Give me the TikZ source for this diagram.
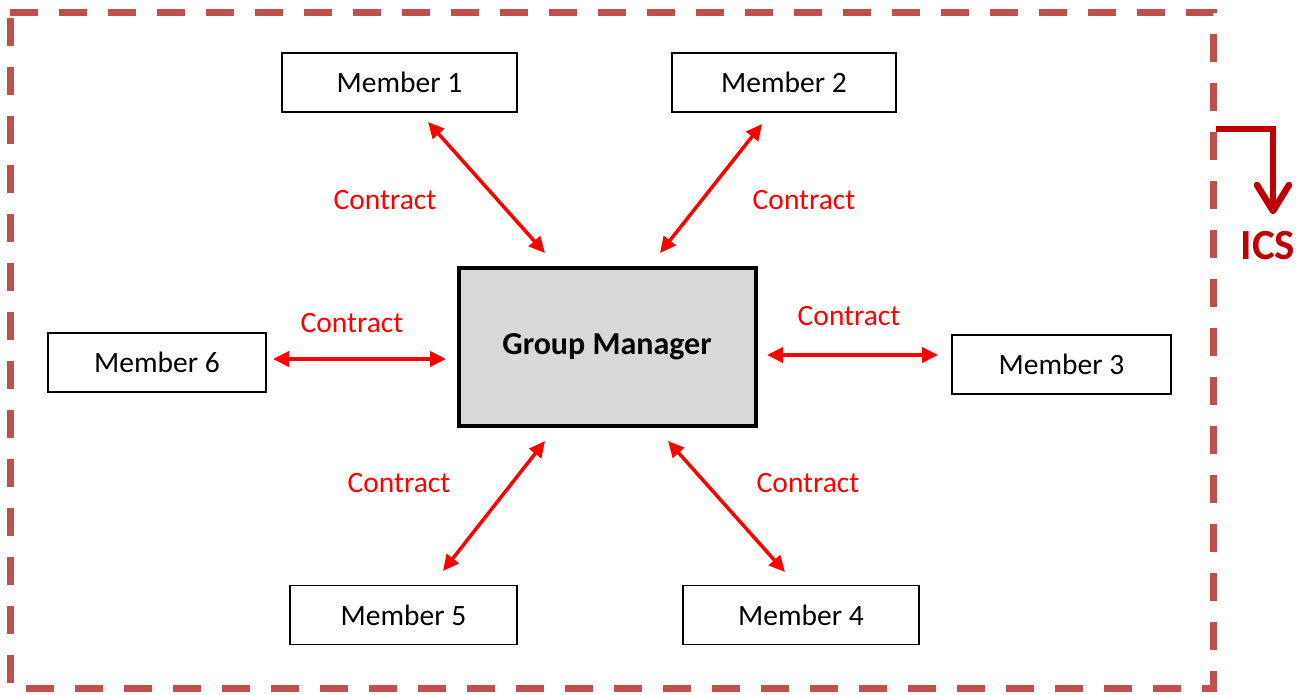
\documentclass[tikz,border=0pt]{standalone}
\usepackage{fontspec}
\setmainfont{Carlito}
\usetikzlibrary{arrows.meta}
\definecolor{bord}{HTML}{C0504D}
\definecolor{icsred}{HTML}{C00000}
\definecolor{gmfill}{HTML}{D9D9D9}
\tikzset{
  member/.style={draw=black, line width=1.5pt, minimum width=#1, minimum height=59pt, inner sep=0pt, font=\fontsize{29.5}{34}\selectfont},
  mgr/.style={draw=black, line width=4pt, fill=gmfill, minimum width=297pt, minimum height=158pt, inner sep=0pt, font=\fontsize{32}{36}\selectfont\bfseries},
  contract/.style={draw=red, line width=3.5pt, {Triangle[length=16pt,width=15pt]}-{Triangle[length=16pt,width=15pt]}},
  clabel/.style={text=red, font=\fontsize{29.5}{34}\selectfont, inner sep=0pt},
}
\begin{document}
\begin{tikzpicture}[x=1pt,y=-1pt]
\useasboundingbox (0,0) rectangle (1314,694);
% dashed frame
\draw[bord, line width=7pt, dash pattern=on 28pt off 21pt] (10,12) -- (1213,12) -- (1213,688) -- (10,688) -- cycle;
% ICS marker
\coordinate (icsA) at (1216,129);
\coordinate (icsB) at (1273,129);
\coordinate (icsC) at (1273,211);
\coordinate (barbL) at (1257,185);
\coordinate (barbR) at (1289,185);
\draw[icsred, line width=5.5pt] (icsA) -- (icsB) -- (icsC);
\draw[icsred, line width=6.5pt, line cap=round, line join=round] (barbL) -- (icsC) -- (barbR);
\node[text=icsred, font=\fontsize{43}{48}\selectfont\bfseries, inner sep=0pt] (ics) at (1268,246) {ICS};
% nodes
\node[mgr] (gm) at (607,346.5) {Group Manager};
\node[member=235pt] (m1) at (399.5,82.5) {Member 1};
\node[member=224pt] (m2) at (784,82.5) {Member 2};
\node[member=219pt] (m3) at (1061.5,364.5) {Member 3};
\node[member=236pt] (m4) at (801,615) {Member 4};
\node[member=227pt] (m5) at (403.5,615) {Member 5};
\node[member=218pt] (m6) at (157,362.5) {Member 6};
% connector end points
\coordinate (a1s) at (428,122); \coordinate (a1e) at (545,253);
\coordinate (a2s) at (762,124); \coordinate (a2e) at (660,253);
\coordinate (a3s) at (767,355); \coordinate (a3e) at (938,355);
\coordinate (a4s) at (668,441); \coordinate (a4e) at (785,572);
\coordinate (a5s) at (443,571); \coordinate (a5e) at (545,441);
\coordinate (a6s) at (273,359); \coordinate (a6e) at (446,359);
\draw[contract] (a1s) -- (a1e);
\draw[contract] (a2s) -- (a2e);
\draw[contract] (a3s) -- (a3e);
\draw[contract] (a4s) -- (a4e);
\draw[contract] (a5s) -- (a5e);
\draw[contract] (a6s) -- (a6e);
% labels
\node[clabel] (l1) at (385,200) {Contract};
\node[clabel] (l2) at (804,200) {Contract};
\node[clabel] (l3) at (849,316) {Contract};
\node[clabel] (l4) at (808,483) {Contract};
\node[clabel] (l5) at (399,483) {Contract};
\node[clabel] (l6) at (352,323) {Contract};
\end{tikzpicture}
\end{document}
